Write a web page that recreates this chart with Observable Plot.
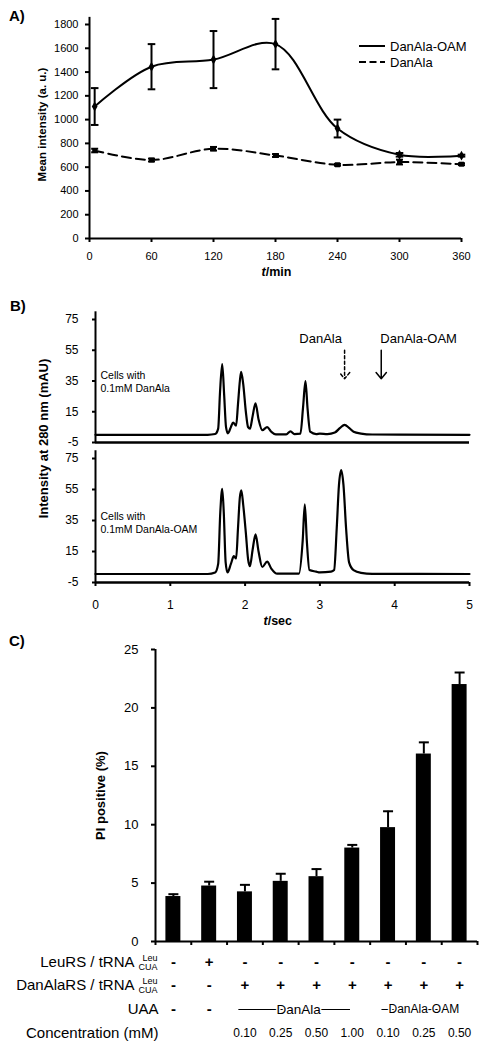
<!DOCTYPE html>
<html>
<head>
<meta charset="utf-8">
<script src="https://cdn.jsdelivr.net/npm/d3@7"></script>
<script src="https://cdn.jsdelivr.net/npm/@observablehq/plot@0.6"></script>
<style>
  body { margin: 0; background: #fff; font-family: "Liberation Sans", Arial, sans-serif; color: #000; }
  #root { position: relative; width: 487px; height: 1048px; overflow: hidden; background: #fff; }
  .panel { position: absolute; left: 0; }
  .plabel { position: absolute; font-weight: bold; font-size: 15px; line-height: 15px; }
  .panel svg g[aria-label^="x-axis"] line, .panel svg g[aria-label^="y-axis"] line,
  .panel svg g[aria-label="x-axis tick"] path, .panel svg g[aria-label="y-axis tick"] path { stroke-width: 2px; }
  #pa svg g[aria-label^="x-axis"] text, #pa svg g[aria-label^="y-axis"] text { font-size: 11px !important; }
  #pb1 svg g[aria-label^="x-axis"] text, #pb1 svg g[aria-label^="y-axis"] text,
  #pb2 svg g[aria-label^="x-axis"] text, #pb2 svg g[aria-label^="y-axis"] text { font-size: 12px !important; }
  #pc svg g[aria-label^="y-axis"] text { font-size: 13px !important; }
  .legend-row { position: absolute; display: flex; align-items: center; height: 16px; font-size: 13px; }
  .legend-row svg { margin-right: 5px; }
</style>
</head>
<body>
<div id="root">
  <div class="plabel" style="left:9px;top:8px;">A)</div>
  <div class="plabel" style="left:10px;top:298px;">B)</div>
  <div class="plabel" style="left:9px;top:633px;">C)</div>
  <div id="pa" class="panel" style="top:0px;"></div>
  <div id="pb1" class="panel" style="top:300px;"></div>
  <div id="pb2" class="panel" style="top:450px;"></div>
  <div id="pc" class="panel" style="top:630px;"></div>
  <div class="legend-row" style="left:359px;top:38px;"><svg width="26" height="16"><line x1="0" x2="26" y1="8" y2="8" stroke="#000" stroke-width="2"/></svg><span>DanAla-OAM</span></div>
  <div class="legend-row" style="left:359px;top:54px;"><svg width="26" height="16"><line x1="0" x2="26" y1="8" y2="8" stroke="#000" stroke-width="2" stroke-dasharray="7,3.5"/></svg><span>DanAla</span></div>
</div>
<script>
// ---------- Panel A data ----------
const aTimes = [5, 60, 120, 180, 240, 300, 360];
const aOamMean = [1110, 1445, 1505, 1635, 925, 704, 697];
const aOamErr = [155, 190, 240, 212, 75, 15, 8];
const aDanMean = [740, 660, 755, 698, 620, 643, 625];
const aDanErr = [15, 12, 15, 12, 8, 20, 8];
const aXTicks = [0, 60, 120, 180, 240, 300, 360];
const aYTicks = [0, 200, 400, 600, 800, 1000, 1200, 1400, 1600, 1800];
const aSeries = ["DanAla-OAM", "DanAla"];

// ---------- Panel B data (chromatograms) ----------
const bTimeDanAla = [0, 1.5, 1.6, 1.64, 1.665, 1.694, 1.72, 1.745, 1.77, 1.81, 1.84, 1.88, 1.905, 1.93, 1.947, 1.975, 2.01, 2.04, 2.065, 2.1, 2.139, 2.18, 2.23, 2.295, 2.35, 2.41, 2.55, 2.607, 2.66, 2.74, 2.775, 2.807, 2.835, 2.87, 2.95, 3.0, 3.1, 3.2, 3.27, 3.33, 3.39, 3.45, 3.55, 3.7, 5];
const bDanAla =     [0, 0,   0.5, 4,    28,    46,    26,   5,     1,    5,    8,    6,    20,    35,   41,    33,    15,   5,    4,     12,  20.5,  10,   3,    5,     2,    0.3,  0.3,  2.3,   0.5,  0.8,  18,    35,    17,    2,    0.5,  0.8, 0.5, 1.5, 4.5,  6.5,  4.5,  2,    0.8,  0.2, 0];
const bTimeOam =    [0, 1.5, 1.6, 1.64, 1.668, 1.694, 1.715, 1.74, 1.765, 1.81, 1.85, 1.88, 1.905, 1.93, 1.95, 1.975, 2.01, 2.04, 2.065, 2.1, 2.14, 2.18, 2.23, 2.295, 2.35, 2.43, 2.72, 2.77, 2.798, 2.825, 2.86, 2.95, 3.0, 3.15, 3.19, 3.225, 3.255, 3.285, 3.315, 3.35, 3.39, 3.45, 3.55, 3.7, 5];
const bOam =        [0.5, 0.5, 1.5, 7,  40,    55.5,  40,    8,    1.5,  7,    12,   10.5, 30,    50,   54.5,  45,    27,   10,   5.5,   16,  26,   15,   5,    8.5,   4,    0.7,  0.7,  22,   45.5,  22,    3,    2,    1.5, 2,    3,    30,    58,    67.5,  58,    30,   8,    3,    1.2,  0.6, 0.5];
const bXTicks = [0, 1, 2, 3, 4, 5];
const bYTicks = [-5, 15, 35, 55, 75];
const bSampleNotes = ["Cells with\n0.1mM DanAla", "Cells with\n0.1mM DanAla-OAM"];
const bArrowLabels = ["DanAla", "DanAla-OAM"];
const bArrowTimes = [3.33, 3.82];
const bArrowLabelTimes = [3.01, 4.32];

// ---------- Panel C data ----------
const cPiPositive = [3.85, 4.75, 4.25, 5.15, 5.55, 8.0, 9.75, 16.05, 22.0];
const cPiError = [0.2, 0.37, 0.6, 0.65, 0.65, 0.27, 1.4, 1.0, 1.03];
const cLeuRS = ["-", "+", "-", "-", "-", "-", "-", "-", "-"];
const cDanAlaRS = ["-", "-", "+", "+", "+", "+", "+", "+", "+"];
const cUAA = ["-", "-", "DanAla", "DanAla", "DanAla", "DanAla", "DanAla-OAM", "DanAla-OAM", "DanAla-OAM"];
const cConcentration = ["", "", "0.10", "0.25", "0.50", "1.00", "0.10", "0.25", "0.50"];
const cYTicks = [0, 5, 10, 15, 20, 25];
const cRowLabels = ["LeuRS / tRNA", "DanAlaRS / tRNA", "UAA", "Concentration (mM)"];
const cTrnaSup = "Leu";
const cTrnaSub = "CUA";

// ---------- helpers ----------
const FONT = '"Liberation Sans", Arial, Helvetica, sans-serif';
const plain = d => String(d);
const cap = {draw(ctx, size) { const w = Math.sqrt(size / Math.PI); ctx.moveTo(-w, 0); ctx.lineTo(w, 0); }};
const baseStyle = (fs) => ({fontFamily: FONT, fontSize: fs, background: "transparent", overflow: "visible", color: "black"});

// ---------- Panel A ----------
const oam = aTimes.map((t, i) => ({t, v: aOamMean[i], e: aOamErr[i], s: aSeries[0]}));
const dan = aTimes.map((t, i) => ({t, v: aDanMean[i], e: aDanErr[i], s: aSeries[1]}));
const errMarks = (data, r) => [
  Plot.ruleX(data, {x: "t", y1: d => d.v - d.e, y2: d => d.v + d.e, stroke: "black", strokeWidth: 2}),
  Plot.dot(data, {x: "t", y: d => d.v + d.e, symbol: cap, r, stroke: "black", strokeWidth: 2, fill: "none"}),
  Plot.dot(data, {x: "t", y: d => d.v - d.e, symbol: cap, r, stroke: "black", strokeWidth: 2, fill: "none"})
];
const plotA = Plot.plot({
  width: 487, height: 280,
  marginLeft: 89, marginRight: 26, marginTop: 24, marginBottom: 42,
  style: baseStyle("11px"),
  x: {domain: [0, 360], ticks: aXTicks, tickSize: 4, tickPadding: 10, tickFormat: plain, label: null},
  y: {domain: [0, 1800], ticks: aYTicks, tickSize: 4, tickPadding: 7, tickFormat: plain, label: null},
  marks: [
    Plot.ruleX([0], {y1: 0, y2: 1860, stroke: "black", strokeWidth: 2}),
    Plot.ruleY([0], {stroke: "black", strokeWidth: 2}),
    Plot.line(oam, {x: "t", y: "v", curve: "catmull-rom", stroke: "black", strokeWidth: 2}),
    Plot.line(dan, {x: "t", y: "v", curve: "catmull-rom", stroke: "black", strokeWidth: 2, strokeDasharray: "9,5"}),
    ...errMarks(oam, 3.8),
    ...errMarks(dan, 3.5),
    Plot.dot(oam, {x: "t", y: "v", symbol: "diamond", r: 3, fill: "black"}),
    Plot.dot(dan, {x: "t", y: "v", symbol: "square", r: 2.8, fill: "black"}),
    Plot.text(["Mean intensity (a. u.)"], {text: d => d, frameAnchor: "left", textAnchor: "middle", lineAnchor: "middle", rotate: -90, dx: -47, dy: -7, fontSize: 11.5, fontWeight: "bold"}),
    Plot.text(["t"], {text: d => d, frameAnchor: "bottom", lineAnchor: "middle", dy: 33, dx: -9.8, textAnchor: "end", fontSize: 12.5, fontWeight: "bold", fontStyle: "italic"}),
    Plot.text(["/min"], {text: d => d, frameAnchor: "bottom", lineAnchor: "middle", dy: 33, dx: -9.8, textAnchor: "start", fontSize: 12.5, fontWeight: "bold"})
  ]
});
document.getElementById("pa").append(plotA);

// ---------- Panel B ----------
const traceTop = bTimeDanAla.map((t, i) => ({t, v: bDanAla[i]}));
const traceBottom = bTimeOam.map((t, i) => ({t, v: bOam[i]}));
const arrows = bArrowLabels.map((label, i) => ({label, t: bArrowTimes[i], lt: bArrowLabelTimes[i], dashed: i === 0}));

const plotB1 = Plot.plot({
  width: 487, height: 150,
  marginLeft: 95, marginRight: 18, marginTop: 19, marginBottom: 8,
  style: baseStyle("12px"),
  x: {domain: [0, 5], axis: null},
  y: {domain: [-5, 75], ticks: bYTicks, tickSize: 3, tickPadding: 14, tickFormat: plain, label: null},
  marks: [
    Plot.ruleX([0], {y1: -5, y2: 80, stroke: "black", strokeWidth: 2}),
    Plot.ruleY([-5], {stroke: "black", strokeWidth: 2.5}),
    Plot.line(traceTop, {x: "t", y: "v", curve: "monotone-x", stroke: "black", strokeWidth: 2.2}),
    Plot.text([bSampleNotes[0]], {text: d => d, x: 0.067, y: 35, textAnchor: "start", fontSize: 10.5, lineHeight: 1.24}),
    Plot.arrow(arrows.filter(d => d.dashed), {x1: "t", x2: "t", y1: 55, y2: 36.5, stroke: "black", strokeWidth: 1.5, headLength: 8, headAngle: 80, strokeDasharray: "3,2.5"}),
    Plot.arrow(arrows.filter(d => !d.dashed), {x1: "t", x2: "t", y1: 55, y2: 36.5, stroke: "black", strokeWidth: 1.5, headLength: 8, headAngle: 80}),
    Plot.text(arrows, {x: "lt", y: 62.6, text: "label", fontSize: 13})
  ]
});
document.getElementById("pb1").append(plotB1);

const plotB2 = Plot.plot({
  width: 487, height: 180,
  marginLeft: 95, marginRight: 18, marginTop: 8, marginBottom: 48,
  style: baseStyle("12px"),
  x: {domain: [0, 5], ticks: bXTicks, tickSize: 4, tickPadding: 14, tickFormat: plain, label: null},
  y: {domain: [-5, 75], ticks: bYTicks, tickSize: 3, tickPadding: 14, tickFormat: plain, label: null},
  marks: [
    Plot.ruleX([0], {y1: -5, y2: 80, stroke: "black", strokeWidth: 2}),
    Plot.ruleY([-5], {stroke: "black", strokeWidth: 2.5}),
    Plot.line(traceBottom, {x: "t", y: "v", curve: "monotone-x", stroke: "black", strokeWidth: 2.2}),
    Plot.text([bSampleNotes[1]], {text: d => d, x: 0.067, y: 33.5, textAnchor: "start", fontSize: 10.5, lineHeight: 1.24}),
    Plot.text(["Intensity at 280 nm (mAU)"], {text: d => d, frameAnchor: "left", textAnchor: "middle", lineAnchor: "middle", rotate: -90, dx: -52, dy: -82, fontSize: 13, fontWeight: "bold"}),
    Plot.text(["t"], {text: d => d, frameAnchor: "bottom", lineAnchor: "middle", dy: 38, dx: -14.8, textAnchor: "end", fontSize: 12.5, fontWeight: "bold", fontStyle: "italic"}),
    Plot.text(["/sec"], {text: d => d, frameAnchor: "bottom", lineAnchor: "middle", dy: 38, dx: -14.8, textAnchor: "start", fontSize: 12.5, fontWeight: "bold"})
  ]
});
document.getElementById("pb2").append(plotB2);

// ---------- Panel C ----------
const bars = cPiPositive.map((v, i) => ({i, v, e: cPiError[i]}));
const idx = d3.range(cPiPositive.length);
const groups = [];
cUAA.forEach((u, i) => {
  if (u === "-") return;
  const g = groups[groups.length - 1];
  if (g && g.label === u && g.end === i - 1) g.end = i; else groups.push({label: u, start: i, end: i});
});
const rowDy = [21, 44, 68, 92];
const plotC = Plot.plot({
  width: 487, height: 418,
  marginLeft: 155, marginRight: 10, marginTop: 19, marginBottom: 107,
  style: baseStyle("13px"),
  x: {domain: [0, cPiPositive.length], ticks: d3.range(cPiPositive.length + 1), tickSize: 4, tickFormat: () => "", label: null},
  y: {domain: [0, 25], ticks: cYTicks, tickSize: 4, tickPadding: 13, tickFormat: plain, label: null},
  marks: [
    Plot.rectY(bars, {x1: "i", x2: d => d.i + 1, y: "v", fill: "black", insetLeft: 10.4, insetRight: 10.4}),
    Plot.ruleX(bars, {x: d => d.i + 0.5, y1: "v", y2: d => d.v + d.e, stroke: "black", strokeWidth: 2}),
    Plot.dot(bars, {x: d => d.i + 0.5, y: d => d.v + d.e, symbol: cap, r: 5, stroke: "black", strokeWidth: 2, fill: "none"}),
    Plot.ruleX([0], {y1: 0, y2: 25, stroke: "black", strokeWidth: 2}),
    Plot.ruleY([0], {stroke: "black", strokeWidth: 2}),
    Plot.text(["PI positive (%)"], {text: d => d, frameAnchor: "left", textAnchor: "middle", lineAnchor: "middle", rotate: -90, dx: -55, fontSize: 13, fontWeight: "bold"}),
    // table rows
    Plot.text(idx, {x: i => i + 0.5, y: 0, text: i => cLeuRS[i], dy: rowDy[0], fontSize: 15, fontWeight: "bold"}),
    Plot.text(idx, {x: i => i + 0.5, y: 0, text: i => cDanAlaRS[i], dy: rowDy[1], fontSize: 15, fontWeight: "bold"}),
    Plot.text(idx.filter(i => cUAA[i] === "-"), {x: i => i + 0.5, y: 0, text: i => cUAA[i], dy: rowDy[2], fontSize: 15, fontWeight: "bold"}),
    Plot.ruleY(groups, {y: 0, x1: d => d.start + 0.33, x2: d => d.end + 0.45, dy: rowDy[2], stroke: "black", strokeWidth: 1}),
    Plot.text(groups, {x: d => (d.start + d.end + 1) / 2, y: 0, text: "label", dy: rowDy[2], fontSize: d => d.label.length > 6 ? 12 : 13.5, stroke: "white", strokeWidth: 3, fill: "black", paintOrder: "stroke"}),
    Plot.text(idx, {x: i => i + 0.5, y: 0, text: i => cConcentration[i], dy: rowDy[3], fontSize: 12}),
    // row labels
    Plot.text([cRowLabels[0]], {text: d => d, x: 0, y: 0, dx: -21, dy: rowDy[0], textAnchor: "end", fontSize: 15}),
    Plot.text([cRowLabels[1]], {text: d => d, x: 0, y: 0, dx: -21, dy: rowDy[1], textAnchor: "end", fontSize: 15}),
    Plot.text([cRowLabels[2]], {text: d => d, x: 0, y: 0, dx: 3, dy: rowDy[2], textAnchor: "end", fontSize: 15}),
    Plot.text([cRowLabels[3]], {text: d => d, x: 0, y: 0, dx: 3, dy: rowDy[3], textAnchor: "end", fontSize: 15}),
    Plot.text([cTrnaSup], {text: d => d, x: 0, y: 0, dx: 2, dy: rowDy[0] - 4.5, textAnchor: "end", fontSize: 9}),
    Plot.text([cTrnaSub], {text: d => d, x: 0, y: 0, dx: 2, dy: rowDy[0] + 5, textAnchor: "end", fontSize: 9}),
    Plot.text([cTrnaSup], {text: d => d, x: 0, y: 0, dx: 2, dy: rowDy[1] - 4.5, textAnchor: "end", fontSize: 9}),
    Plot.text([cTrnaSub], {text: d => d, x: 0, y: 0, dx: 2, dy: rowDy[1] + 5, textAnchor: "end", fontSize: 9})
  ]
});
document.getElementById("pc").append(plotC);
</script>
</body>
</html>
